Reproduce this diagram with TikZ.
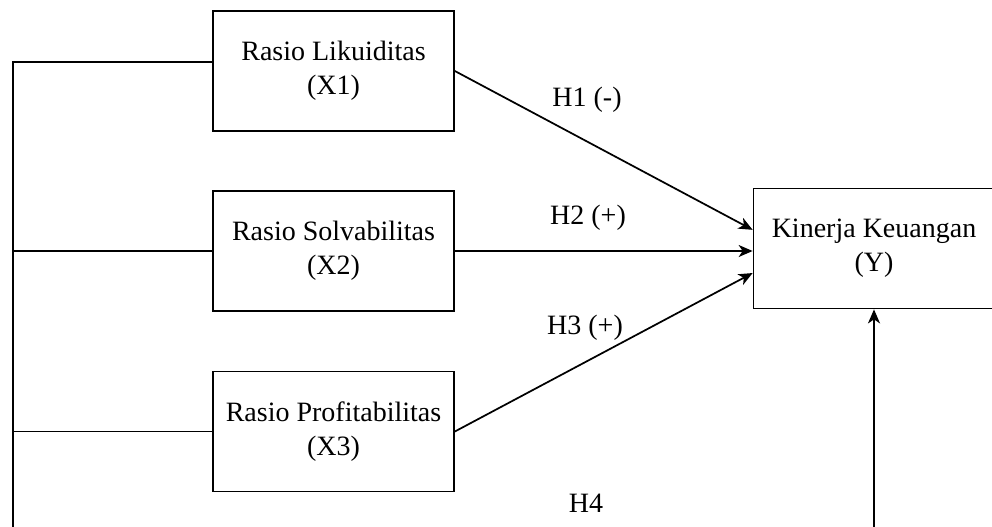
\documentclass[tikz,border=0pt]{standalone}
\usepackage{fontspec}
\setmainfont{Liberation Serif}
\usetikzlibrary{arrows.meta}
\begin{document}
\begin{tikzpicture}[x=0.75pt,y=-0.75pt,
  varbox/.style={draw,line width=1.3pt,minimum width=180.75pt,minimum height=90pt,
    align=center,inner sep=0pt,font=\fontsize{21}{25.5}\selectfont},
  conn/.style={line width=1.3pt},
  arr/.style={line width=1.3pt,-{Stealth[length=10.5pt,width=9pt,inset=3pt]}},
  hlabel/.style={font=\fontsize{21}{25.5}\selectfont,inner sep=0pt}]
\useasboundingbox (0,0) rectangle (992,526);
\clip (0,0) rectangle (992,526);
\node[varbox] (x1) at (333.5,71) {Rasio Likuiditas\\(X1)};
\node[varbox] (x2) at (333.5,251) {Rasio Solvabilitas\\(X2)};
\node[varbox] (x3) at (333.5,431.5) {Rasio Profitabilitas\\(X3)};
\node[varbox] (y) at (874,248.5) {Kinerja Keuangan\\(Y)};
\coordinate (bl) at (13,530);
\coordinate (br) at (874,530);
\draw[arr] (x1.east) -- ([yshift=14pt]y.west);
\draw[arr] (x2.east) -- (x2.east -| y.west);
\draw[arr] (x3.east) -- ([yshift=-18.4pt]y.west);
\draw[conn] ([yshift=6.75pt]x1.west) -| (bl);
\draw[conn] (x2.west) -- (x2.west -| bl);
\draw[conn] (x3.west) -- (x3.west -| bl);
\draw[arr] (br) -- (y.south);
\node[hlabel] (h1) at (587,100) {H1 (-)};
\node[hlabel] (h2) at (588,218) {H2 (+)};
\node[hlabel] (h3) at (585,328) {H3 (+)};
\node[hlabel] (h4) at (586,503) {H4};
\end{tikzpicture}
\end{document}
